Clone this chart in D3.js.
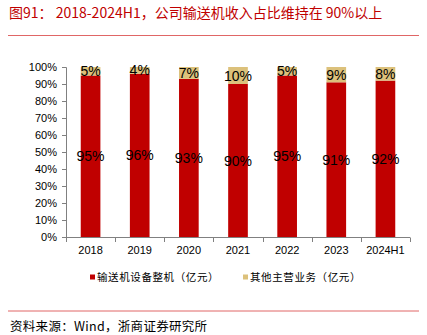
<!DOCTYPE html>
<html><head><meta charset="utf-8">
<script src="https://cdn.jsdelivr.net/npm/d3@7"></script>
<style>body{margin:0;background:#fff}</style>
</head><body><svg id="c" width="427" height="335"></svg>
<script>
const categories = ["2018","2019","2020","2021","2022","2023","2024H1"];
const conveyor = [95,96,93,90,95,91,92];
const other = [5,4,7,10,5,9,8];
const yTicks = [0,10,20,30,40,50,60,70,80,90,100];
const seriesNames = ["输送机设备整机（亿元）","其他主营业务（亿元）"];
const colors = ["#C00000","#DCC17B"];

const svg = d3.select("#c");
const cjk = "'Noto Sans CJK SC', sans-serif";
const lat = "'Liberation Sans', Arial, sans-serif";

svg.append("text").attr("x",9).attr("y",18).attr("fill","#C00000")
  .style("font-family",cjk).style("font-size","14px")
  .text("图91：  2018-2024H1，公司输送机收入占比维持在 90%以上");
svg.append("line").attr("x1",8).attr("x2",419).attr("y1",35.5).attr("y2",35.5)
  .attr("stroke","#E06666").attr("stroke-width",1);

const x = d3.scaleBand().domain(categories).range([66,410]).paddingInner(0.6).paddingOuter(0.3);
const y = d3.scaleLinear().domain([0,100]).range([237,67]);

const data = categories.map((c,i)=>({c, a:conveyor[i], b:other[i]}));
const stack = d3.stack().keys(["a","b"])(data);

const g = svg.append("g");
stack.forEach((s,si)=>{
  g.selectAll(null).data(s).enter().append("rect")
    .attr("x",d=>x(d.data.c)).attr("width",x.bandwidth())
    .attr("y",d=>y(d[1])).attr("height",d=>y(d[0])-y(d[1]))
    .attr("fill",colors[si]);
  g.selectAll(null).data(s).enter().append("text")
    .attr("x",d=>x(d.data.c)+x.bandwidth()/2)
    .attr("y",d=>(y(d[0])+y(d[1]))/2)
    .attr("dy","0.36em").attr("text-anchor","middle")
    .style("font-family",lat).style("font-size","14px").attr("fill","#000")
    .text(d=>(d[1]-d[0])+"%");
});

const yAxis = d3.axisLeft(y).tickValues(yTicks).tickFormat(d=>d+"%").tickSize(4).tickPadding(5);
const ya = svg.append("g").attr("transform","translate(66,0)").call(yAxis);
ya.selectAll("text").style("font-family",lat).style("font-size","11px").attr("fill","#000");
ya.selectAll("line,path").attr("stroke","#808080");

const xEdge = d3.scaleLinear().domain([0,categories.length]).range([66,410]);
const xa = svg.append("g");
xa.append("line").attr("x1",66).attr("x2",410).attr("y1",237.5).attr("y2",237.5).attr("stroke","#808080");
xa.selectAll(null).data(d3.range(categories.length+1)).enter().append("line")
  .attr("x1",d=>Math.round(xEdge(d))+0.5).attr("x2",d=>Math.round(xEdge(d))+0.5)
  .attr("y1",237.5).attr("y2",242).attr("stroke","#808080");
xa.selectAll(null).data(categories).enter().append("text")
  .attr("x",d=>x(d)+x.bandwidth()/2).attr("y",254).attr("text-anchor","middle")
  .style("font-family",lat).style("font-size","11px").attr("fill","#000").text(d=>d);

const legX = [90,243];
seriesNames.forEach((n,i)=>{
  svg.append("rect").attr("x",legX[i]).attr("y",274.5).attr("width",5).attr("height",5).attr("fill",colors[i]);
  svg.append("text").attr("x",legX[i]+7).attr("y",281).style("font-family",cjk)
    .style("font-size","10.5px").style("letter-spacing","0.6px").attr("fill","#000").text(n);
});

svg.append("line").attr("x1",8).attr("x2",419).attr("y1",311).attr("y2",311)
  .attr("stroke","#E06666").attr("stroke-width",1);
svg.append("text").attr("x",10).attr("y",331).style("font-family",cjk)
  .style("font-size","12.5px").style("letter-spacing","0.3px").attr("fill","#000").text("资料来源：Wind，浙商证券研究所");
</script></body></html>
